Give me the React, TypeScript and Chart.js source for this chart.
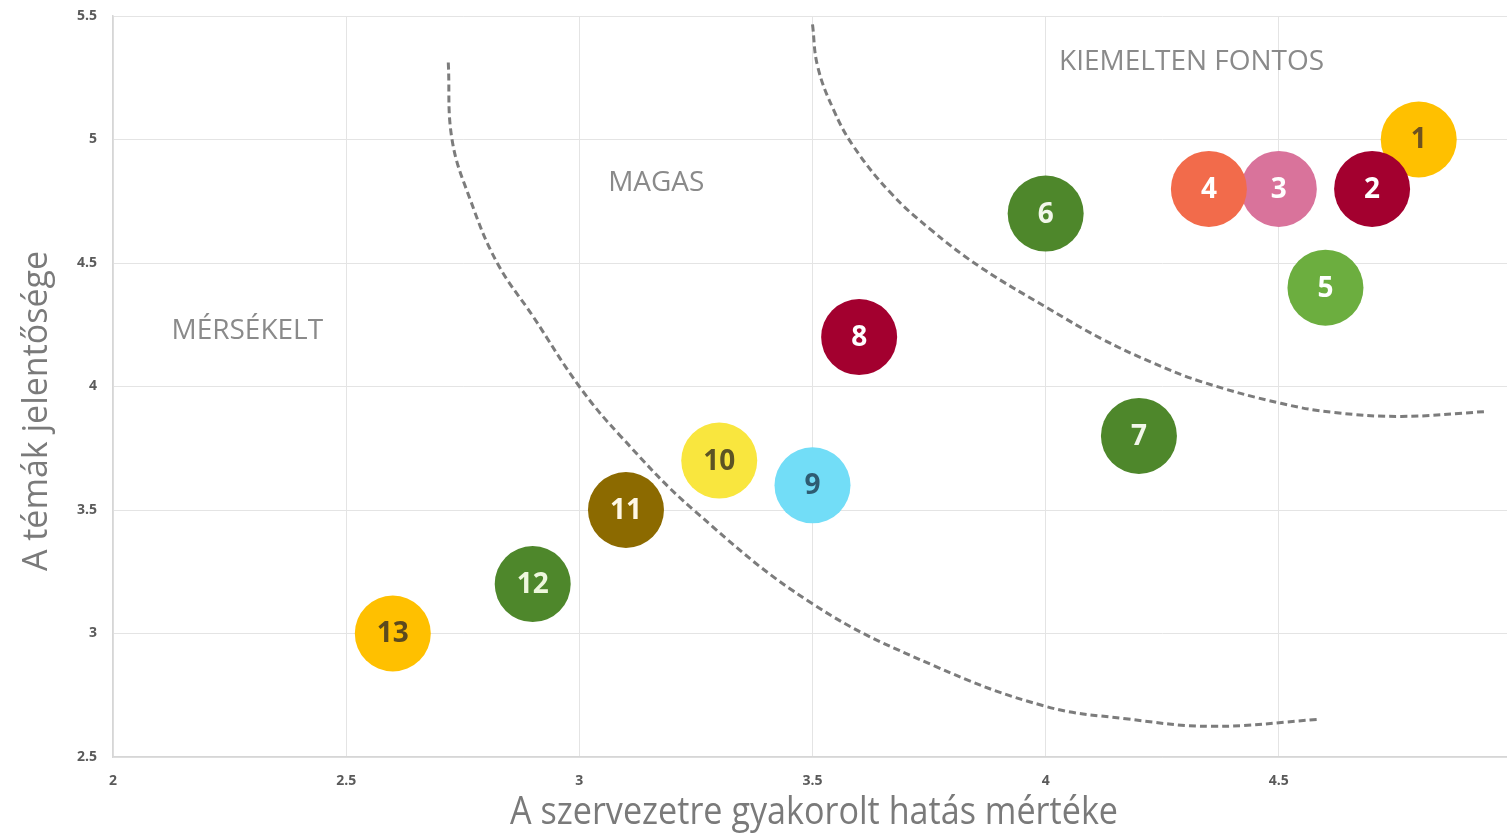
import { useEffect, useRef } from "react";
import { Chart, registerables } from "chart.js";

Chart.register(...registerables);

// Topics (bubble labels) and their positions
const topicIds = ["1", "2", "3", "4", "5", "6", "7", "8", "9", "10", "11", "12", "13"];
const impactValues = [4.8, 4.7, 4.5, 4.35, 4.6, 4.0, 4.2, 3.6, 3.5, 3.3, 3.1, 2.9, 2.6];
const importanceValues = [5.0, 4.8, 4.8, 4.8, 4.4, 4.7, 3.8, 4.2, 3.6, 3.7, 3.5, 3.2, 3.0];

const bubbleColors = [
  "#FFC000", "#A3002F", "#D9739B", "#F26B4B", "#6CAE3F", "#4E872B", "#4E872B",
  "#A3002F", "#72DDF7", "#F9E63E", "#8C6A00", "#4E872B", "#FFC000",
];
const numberColors = [
  "#6E5220", "#FFFFFF", "#FFFFFF", "#FFFFFF", "#FFFFFF", "#F2F7EA", "#F2F7EA",
  "#FFFFFF", "#2E5C72", "#5C5424", "#FFF8E6", "#EEF7DD", "#5C4A1E",
];

// Dashed boundary curves
const innerCurveX = [2.719, 2.727, 2.766, 2.824, 2.901, 3.0, 3.088, 3.245, 3.5, 3.76, 4.0, 4.172, 4.356, 4.584];
const innerCurveY = [5.312, 5.0, 4.757, 4.5, 4.283, 4.0, 3.8, 3.5, 3.12, 2.87, 2.705, 2.655, 2.624, 2.652];
const outerCurveX = [3.5, 3.511, 3.545, 3.588, 3.667, 3.753, 3.861, 4.004, 4.118, 4.225, 4.333, 4.504, 4.618, 4.762, 4.948];
const outerCurveY = [5.466, 5.296, 5.121, 4.972, 4.785, 4.636, 4.482, 4.318, 4.195, 4.1, 4.02, 3.932, 3.895, 3.879, 3.899];

// Region labels
const regionNames = ["KIEMELTEN FONTOS", "MAGAS", "MÉRSÉKELT"];
const regionX = [4.313, 3.165, 2.288];
const regionY = [5.312, 4.822, 4.223];

// Axes
const xTitle = "A szervezetre gyakorolt hatás mértéke";
const yTitle = "A témák jelentősége";
const xTickLabels = ["2", "2.5", "3", "3.5", "4", "4.5", "5"];
const yTickLabels = ["2.5", "3", "3.5", "4", "4.5", "5", "5.5"];
const xMin = 2;
const xMax = 5;
const yMin = 2.5;
const yMax = 5.5;
const tickStep = 0.5;

const overlayPlugin = {
  id: "overlayText",
  afterDatasetsDraw(chart: any) {
    const ctx = chart.ctx as CanvasRenderingContext2D;
    const xs = chart.scales.x;
    const ys = chart.scales.y;

    // region labels
    ctx.save();
    ctx.fillStyle = "#8a8a8a";
    ctx.font = '28px "Open Sans"';
    ctx.textAlign = "center";
    ctx.textBaseline = "middle";
    regionNames.forEach((name, i) => {
      ctx.fillText(name, xs.getPixelForValue(regionX[i]), ys.getPixelForValue(regionY[i]));
    });
    ctx.restore();

    // bubble numbers
    const meta = chart.getDatasetMeta(2);
    ctx.save();
    ctx.font = 'bold 28px "Open Sans"';
    ctx.textAlign = "center";
    ctx.textBaseline = "middle";
    meta.data.forEach((el: any, i: number) => {
      ctx.fillStyle = numberColors[i];
      ctx.fillText(topicIds[i], el.x, el.y + 1);
    });
    ctx.restore();
  },
  afterDraw(chart: any) {
    const ctx = chart.ctx as CanvasRenderingContext2D;
    ctx.save();
    ctx.fillStyle = "#7a7a7a";
    ctx.textAlign = "center";
    ctx.textBaseline = "alphabetic";

    // x title (slightly condensed to match the original font)
    ctx.font = '38px "Open Sans"';
    const w = ctx.measureText(xTitle).width;
    const sx = Math.min(1, 608 / w);
    ctx.save();
    ctx.translate(814, 824);
    ctx.scale(sx, 1);
    ctx.fillText(xTitle, 0, 0);
    ctx.restore();

    // y title
    ctx.font = '34px "Open Sans"';
    ctx.translate(47, 411);
    ctx.rotate(-Math.PI / 2);
    ctx.fillText(yTitle, 0, 0);
    ctx.restore();
  },
};

const zeroPadding = (s: any) => {
  s.paddingTop = 0;
  s.paddingBottom = 0;
  s.paddingLeft = 0;
  s.paddingRight = 0;
};

export default function App() {
  const canvasRef = useRef<HTMLCanvasElement | null>(null);

  useEffect(() => {
    if (!canvasRef.current) return;
    const bubbles = impactValues.map((x, i) => ({ x, y: importanceValues[i] }));
    const inner = innerCurveX.map((x, i) => ({ x, y: innerCurveY[i] }));
    const outer = outerCurveX.map((x, i) => ({ x, y: outerCurveY[i] }));

    const curveStyle = {
      type: "line",
      borderColor: "#7c7c7c",
      borderWidth: 3,
      borderDash: [7, 4],
      pointRadius: 0,
      pointHoverRadius: 0,
      tension: 0.4,
      fill: false,
      order: 0,
    };

    const chart = new Chart(canvasRef.current, {
      type: "scatter",
      data: {
        datasets: [
          { ...curveStyle, label: "inner", data: inner } as any,
          { ...curveStyle, label: "outer", data: outer } as any,
          {
            label: "topics",
            data: bubbles,
            backgroundColor: bubbleColors,
            borderWidth: 0,
            pointRadius: 38,
            pointHoverRadius: 38,
            order: 1,
          },
        ],
      },
      options: {
        animation: false,
        responsive: false,
        maintainAspectRatio: false,
        devicePixelRatio: 1,
        layout: { autoPadding: false, padding: { top: 16, right: 8, left: 0, bottom: 0 } },
        plugins: {
          legend: { display: false },
          tooltip: { enabled: false },
        },
        scales: {
          x: {
            type: "linear",
            min: xMin,
            max: xMax,
            ticks: {
              stepSize: tickStep,
              color: "#5a5a5a",
              font: { family: "Open Sans", size: 14, weight: "bold" },
              padding: 16,
              maxRotation: 0,
              callback: (_v: any, i: number) => xTickLabels[i],
            },
            grid: { color: "#e4e4e4", lineWidth: 1, drawTicks: false },
            border: { color: "#d6d6d6", width: 1.5 },
            afterFit: (s: any) => {
              s.height = 77;
              zeroPadding(s);
            },
          },
          y: {
            type: "linear",
            min: yMin,
            max: yMax,
            ticks: {
              stepSize: tickStep,
              color: "#5a5a5a",
              font: { family: "Open Sans", size: 14, weight: "bold" },
              padding: 16,
              callback: (_v: any, i: number) => yTickLabels[i],
            },
            grid: { color: "#e4e4e4", lineWidth: 1, drawTicks: false },
            border: { color: "#d6d6d6", width: 1.5 },
            afterFit: (s: any) => {
              s.width = 113;
              zeroPadding(s);
            },
          },
        },
      },
      plugins: [overlayPlugin],
    });
    return () => chart.destroy();
  }, []);

  return (
    <div
      style={{
        position: "fixed",
        left: 0,
        top: 0,
        width: "100vw",
        height: "100vh",
        overflow: "hidden",
        background: "#ffffff",
      }}
    >
      <canvas
        ref={canvasRef}
        width={1520}
        height={834}
        style={{ display: "block", width: 1520, height: 834 }}
      />
    </div>
  );
}
